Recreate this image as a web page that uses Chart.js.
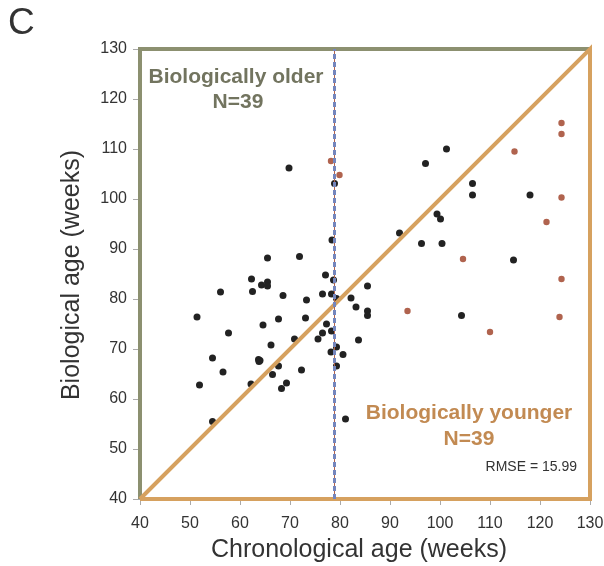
<!DOCTYPE html>
<html>
<head>
<meta charset="utf-8">
<script src="https://cdn.jsdelivr.net/npm/chart.js@4"></script>
<style>
  html, body { margin: 0; padding: 0; background: #fff; }
  #wrap { width: 604px; height: 566px; }
</style>
</head>
<body>
<div id="wrap"><canvas id="chart" width="604" height="566"></canvas></div>
<script>
// valores
const ticksX = [40, 50, 60, 70, 80, 90, 100, 110, 120, 130];
const ticksY = [40, 50, 60, 70, 80, 90, 100, 110, 120, 130];

const blackX = [65.5, 71.9, 62.3, 64.3, 65.5, 65.5, 62.5, 56.1, 68.6, 77.1, 78.7, 76.5, 78.3, 79.3, 73.3, 82.2, 83.2,
  51.4, 67.7, 73.1, 64.6, 77.3, 76.5, 78.3, 57.7, 70.9, 75.6, 83.7, 66.2, 79.3, 78.2, 80.6, 54.5, 63.7, 64.0, 63.8,
  67.7, 56.6, 66.5, 72.3, 79.3, 51.9, 62.2, 69.3, 68.3, 54.5, 81.1, 69.8, 78.9, 78.4,
  101.3, 97.1, 106.5, 106.5, 118.0, 99.4, 100.1, 91.9, 96.3, 100.4, 114.7, 85.5, 85.5, 85.5, 104.3];
const blackY = [88.2, 88.5, 84.0, 82.8, 83.4, 82.6, 81.5, 81.4, 80.7, 84.8, 83.8, 81.0, 81.0, 80.1, 79.8, 80.2, 78.4,
  76.4, 76.0, 76.2, 74.8, 75.0, 73.2, 73.6, 73.2, 72.0, 72.0, 71.8, 70.8, 70.4, 69.4, 68.9, 68.2, 67.9, 67.7, 67.5,
  66.6, 65.4, 64.9, 65.8, 66.6, 62.8, 63.0, 63.2, 62.1, 55.5, 56.0, 106.2, 103.1, 91.8,
  110.0, 107.1, 103.1, 100.8, 100.8, 97.0, 96.0, 93.2, 91.1, 91.1, 87.8, 82.6, 77.6, 76.7, 76.7];

const redX = [78.2, 79.9, 124.3, 124.3, 114.9, 124.3, 121.3, 104.6, 124.3, 93.5, 123.9, 110.0];
const redY = [107.6, 104.8, 115.2, 113.0, 109.5, 100.3, 95.4, 88.0, 84.0, 77.6, 76.4, 73.4];

const cutoffAge = 78.9;
const axisMin = 40;
const axisMax = 130;

const toPoints = (xs, ys) => xs.map((x, i) => ({ x: x, y: ys[i] }));

const colors = {
    older: '#8c9070',
    younger: '#d6a15f',
    youngerText: '#c28a52',
    olderText: '#72745f',
    black: '#222222',
    red: '#b0634e',
    blue: '#7486bd',
    text: '#333333'
};

const fontFam = '"Liberation Sans", Arial, sans-serif';

// textos y letras fuera del grafico
const textPlugin = {
    id: 'textos',
    afterDraw(chart) {
        const ctx = chart.ctx;
        const sx = chart.scales.x;
        const sy = chart.scales.y;
        ctx.save();
        ctx.textBaseline = 'middle';

        ctx.fillStyle = '#333';
        ctx.font = '37px ' + fontFam;
        ctx.textAlign = 'left';
        ctx.fillText('C', 8, 24);

        ctx.textAlign = 'center';
        ctx.fillStyle = colors.text;
        ctx.font = '25px ' + fontFam;
        ctx.fillText('Chronological age (weeks)', 359, 550);
        ctx.save();
        ctx.translate(72, 275);
        ctx.rotate(-Math.PI / 2);
        ctx.fillText('Biological age (weeks)', 0, 0);
        ctx.restore();

        ctx.font = 'bold 21px ' + fontFam;
        ctx.fillStyle = colors.olderText;
        ctx.fillText('Biologically older', sx.getPixelForValue(59.2), sy.getPixelForValue(124.3));
        ctx.fillText('N=39', sx.getPixelForValue(59.6), sy.getPixelForValue(119.3));

        ctx.fillStyle = colors.youngerText;
        ctx.fillText('Biologically younger', sx.getPixelForValue(105.8), sy.getPixelForValue(57.1));
        ctx.fillText('N=39', sx.getPixelForValue(105.8), sy.getPixelForValue(51.9));

        ctx.fillStyle = colors.text;
        ctx.font = '14px ' + fontFam;
        ctx.textAlign = 'right';
        ctx.fillText('RMSE = 15.99', sx.getPixelForValue(127.4), sy.getPixelForValue(46.3));
        ctx.restore();
    }
};

new Chart(document.getElementById('chart'), {
    type: 'scatter',
    data: {
        datasets: [
            {
                // linea de corte (azul discontinua)
                data: [{ x: cutoffAge, y: axisMin }, { x: cutoffAge, y: axisMax }],
                showLine: true,
                borderColor: colors.blue,
                borderWidth: 3,
                borderDash: [5, 3],
                pointRadius: 0,
                order: 1
            },
            {
                data: [{ x: cutoffAge, y: axisMin }, { x: cutoffAge, y: axisMax }],
                showLine: true,
                borderColor: colors.red,
                borderWidth: 1,
                pointRadius: 0,
                order: 2
            },
            {
                // triangulo menor (naranja)
                data: [{ x: axisMin, y: axisMin }, { x: axisMax, y: axisMax }, { x: axisMax, y: axisMin }, { x: axisMin, y: axisMin }],
                showLine: true,
                borderColor: colors.younger,
                borderWidth: 4,
                pointRadius: 0,
                clip: false,
                order: 3
            },
            {
                // triangulo mayor (verde)
                data: [{ x: axisMin, y: axisMin }, { x: axisMin, y: axisMax }, { x: axisMax, y: axisMax }],
                showLine: true,
                borderColor: colors.older,
                borderWidth: 4,
                pointRadius: 0,
                clip: false,
                order: 4
            },
            {
                data: toPoints(redX, redY),
                backgroundColor: colors.red,
                borderWidth: 0,
                pointRadius: 3.2,
                order: 5
            },
            {
                data: toPoints(blackX, blackY),
                backgroundColor: colors.black,
                borderWidth: 0,
                pointRadius: 3.5,
                order: 6
            }
        ]
    },
    options: {
        responsive: false,
        animation: false,
        layout: { padding: { left: 0, top: 49, right: 14, bottom: 0 } },
        plugins: {
            legend: { display: false },
            tooltip: { enabled: false }
        },
        scales: {
            x: {
                type: 'linear',
                min: axisMin,
                max: axisMax,
                afterBuildTicks: (axis) => { axis.ticks = ticksX.map(v => ({ value: v })); },
                afterFit: (axis) => { axis.height = 67; axis.paddingLeft = 0; axis.paddingRight = 0; },
                border: { display: false },
                grid: { drawOnChartArea: false, drawTicks: true, tickLength: 6, color: '#aaaaaa' },
                ticks: { color: colors.text, font: { size: 16, family: fontFam }, padding: 9, maxRotation: 0 }
            },
            y: {
                type: 'linear',
                min: axisMin,
                max: axisMax,
                afterBuildTicks: (axis) => { axis.ticks = ticksY.map(v => ({ value: v })); },
                afterFit: (axis) => { axis.width = 140; axis.paddingTop = 0; axis.paddingBottom = 0; },
                border: { display: false },
                grid: { drawOnChartArea: false, drawTicks: true, tickLength: 7, color: '#aaaaaa' },
                ticks: { color: colors.text, font: { size: 16, family: fontFam }, padding: 6 }
            }
        }
    },
    plugins: [textPlugin]
});
</script>
</body>
</html>
